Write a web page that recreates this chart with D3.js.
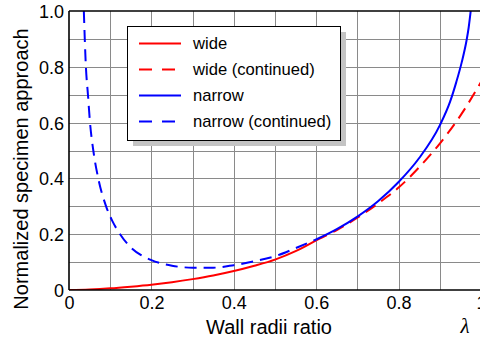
<!DOCTYPE html>
<html>
<head>
<meta charset="utf-8">
<script src="https://cdn.jsdelivr.net/npm/d3@7"></script>
<style>
  html, body { margin: 0; padding: 0; background: #fff; overflow: hidden; }
  svg { display: block; font-family: "Liberation Sans", Arial, sans-serif; }
</style>
</head>
<body>
<svg id="chart" width="480" height="341"></svg>
<script>
// Wall radii ratio (lambda) samples and the normalized specimen approach
const wideLambda = [0, 0.05, 0.1, 0.15, 0.2, 0.25, 0.3, 0.35, 0.4, 0.45, 0.5, 0.55, 0.6, 0.65, 0.7, 0.75, 0.8, 0.85, 0.9, 0.95, 1.0];
const wideValues = [0, 0.002, 0.006, 0.012, 0.019, 0.028, 0.039, 0.052, 0.068, 0.087, 0.109, 0.139, 0.178, 0.215, 0.259, 0.31, 0.367, 0.44, 0.525, 0.625, 0.745];

const narrowLambda = [0.036, 0.041, 0.046, 0.051, 0.059, 0.071, 0.09, 0.106, 0.124, 0.152, 0.175, 0.2, 0.25, 0.3, 0.35, 0.4, 0.45, 0.5, 0.55, 0.6, 0.65, 0.7, 0.75, 0.8, 0.85, 0.9, 0.925, 0.94, 0.953, 0.965, 0.97, 0.975];
const narrowValues = [1.0, 0.8, 0.7, 0.6, 0.5, 0.4, 0.3, 0.245, 0.2, 0.15, 0.125, 0.107, 0.087, 0.080, 0.080, 0.089, 0.103, 0.121, 0.15, 0.181, 0.218, 0.263, 0.318, 0.387, 0.473, 0.59, 0.675, 0.745, 0.815, 0.895, 0.94, 1.0];

// Solid part ends and the "continued" part starts here
const splitLambda = 0.6;

const xTickValues = [0, 0.2, 0.4, 0.6, 0.8, 1];
const xTickLabels = ["0", "0.2", "0.4", "0.6", "0.8", "1"];
const yTickValues = [0, 0.2, 0.4, 0.6, 0.8, 1];
const yTickLabels = ["0", "0.2", "0.4", "0.6", "0.8", "1.0"];
const gridValues = [0.1, 0.2, 0.3, 0.4, 0.5, 0.6, 0.7, 0.8, 0.9];

const legendLabels = ["wide", "wide (continued)", "narrow", "narrow (continued)"];

const svg = d3.select("#chart");
const plotLeft = 69, plotRight = 481, plotTop = 11, plotBottom = 290;

const x = d3.scaleLinear().domain([0, 1]).range([plotLeft, plotRight]);
const y = d3.scaleLinear().domain([0, 1]).range([plotBottom, plotTop]);

// grid
const grid = svg.append("g").attr("stroke", "#8a8a8a").attr("stroke-width", 1);
grid.selectAll("line.v").data(gridValues).join("line").attr("class", "v")
  .attr("x1", d => Math.round(x(d)) + 0.5).attr("x2", d => Math.round(x(d)) + 0.5)
  .attr("y1", plotTop).attr("y2", plotBottom);
grid.selectAll("line.h").data(gridValues).join("line").attr("class", "h")
  .attr("y1", d => Math.round(y(d)) + 0.5).attr("y2", d => Math.round(y(d)) + 0.5)
  .attr("x1", plotLeft).attr("x2", plotRight);

// series
svg.append("clipPath").attr("id", "plotclip")
  .append("rect").attr("x", plotLeft).attr("y", plotTop)
  .attr("width", plotRight - plotLeft).attr("height", plotBottom - plotTop);

const line = d3.line().x(d => x(d[0])).y(d => y(d[1])).curve(d3.curveMonotoneX);

const wide = wideLambda.map((l, i) => [l, wideValues[i]]);
const narrow = narrowLambda.map((l, i) => [l, narrowValues[i]]);

const plot = svg.append("g").attr("clip-path", "url(#plotclip)").attr("fill", "none").attr("stroke-width", 2);

plot.append("path").datum(wide.filter(d => d[0] <= splitLambda))
  .attr("stroke", "#ff0000").attr("d", line);
plot.append("path").datum(wide.filter(d => d[0] >= splitLambda))
  .attr("stroke", "#ff0000").attr("stroke-dasharray", "12,7").attr("d", line);
plot.append("path").datum(narrow.filter(d => d[0] <= splitLambda))
  .attr("stroke", "#0000ff").attr("stroke-dasharray", "12,7").attr("d", line);
plot.append("path").datum(narrow.filter(d => d[0] >= splitLambda))
  .attr("stroke", "#0000ff").attr("d", line);

// frame
const frame = svg.append("g").attr("stroke", "#000").attr("stroke-width", 1.6);
frame.append("line").attr("x1", plotLeft).attr("x2", plotRight).attr("y1", plotTop).attr("y2", plotTop);
frame.append("line").attr("x1", plotLeft).attr("x2", plotRight).attr("y1", plotBottom).attr("y2", plotBottom);
frame.append("line").attr("x1", plotLeft).attr("x2", plotLeft).attr("y1", plotTop).attr("y2", plotBottom);

// axes (labels only)
const xAxis = d3.axisBottom(x).tickValues(xTickValues).tickSize(0).tickPadding(0)
  .tickFormat((d, i) => xTickLabels[i]);
const gx = svg.append("g").attr("transform", `translate(0,${plotBottom})`).call(xAxis);
gx.select(".domain").remove();
gx.selectAll("text").attr("font-size", 18).attr("font-family", "Liberation Sans, Arial, sans-serif")
  .attr("fill", "#000").attr("y", 19).attr("dy", 0);

const yAxis = d3.axisLeft(y).tickValues(yTickValues).tickSize(0).tickPadding(0)
  .tickFormat((d, i) => yTickLabels[i]);
const gy = svg.append("g").attr("transform", `translate(${plotLeft - 5},0)`).call(yAxis);
gy.select(".domain").remove();
gy.selectAll("text").attr("font-size", 18).attr("font-family", "Liberation Sans, Arial, sans-serif")
  .attr("fill", "#000").attr("x", 0).attr("dy", "0.36em");

// axis titles
svg.append("text").attr("x", 269).attr("y", 334).attr("text-anchor", "middle")
  .attr("font-size", 20).text("Wall radii ratio");
svg.append("text").attr("transform", "translate(28,169) rotate(-90)").attr("text-anchor", "middle")
  .attr("font-size", 20).text("Normalized specimen approach");
svg.append("text").attr("x", 465).attr("y", 333).attr("text-anchor", "middle")
  .attr("font-family", "Liberation Serif, DejaVu Serif, serif").attr("font-style", "italic")
  .attr("font-size", 21).text("λ");

// legend
const lg = svg.append("g");
lg.append("rect").attr("x", 133).attr("y", 32).attr("width", 213).attr("height", 114).attr("fill", "#c4c4c4");
lg.append("rect").attr("x", 127.5).attr("y", 26.5).attr("width", 213).attr("height", 114)
  .attr("fill", "#fff").attr("stroke", "#000").attr("stroke-width", 1);
const legendStyles = [
  { color: "#ff0000", dash: null },
  { color: "#ff0000", dash: "13,10" },
  { color: "#0000ff", dash: null },
  { color: "#0000ff", dash: "13,10" }
];
legendLabels.forEach((label, i) => {
  const cy = 43.5 + i * 26;
  lg.append("line").attr("x1", 139).attr("x2", 181).attr("y1", cy).attr("y2", cy)
    .attr("stroke", legendStyles[i].color).attr("stroke-width", 2)
    .attr("stroke-dasharray", legendStyles[i].dash);
  lg.append("text").attr("x", 193).attr("y", cy + 5.3).attr("font-size", 16.6).text(label);
});
</script>
</body>
</html>
